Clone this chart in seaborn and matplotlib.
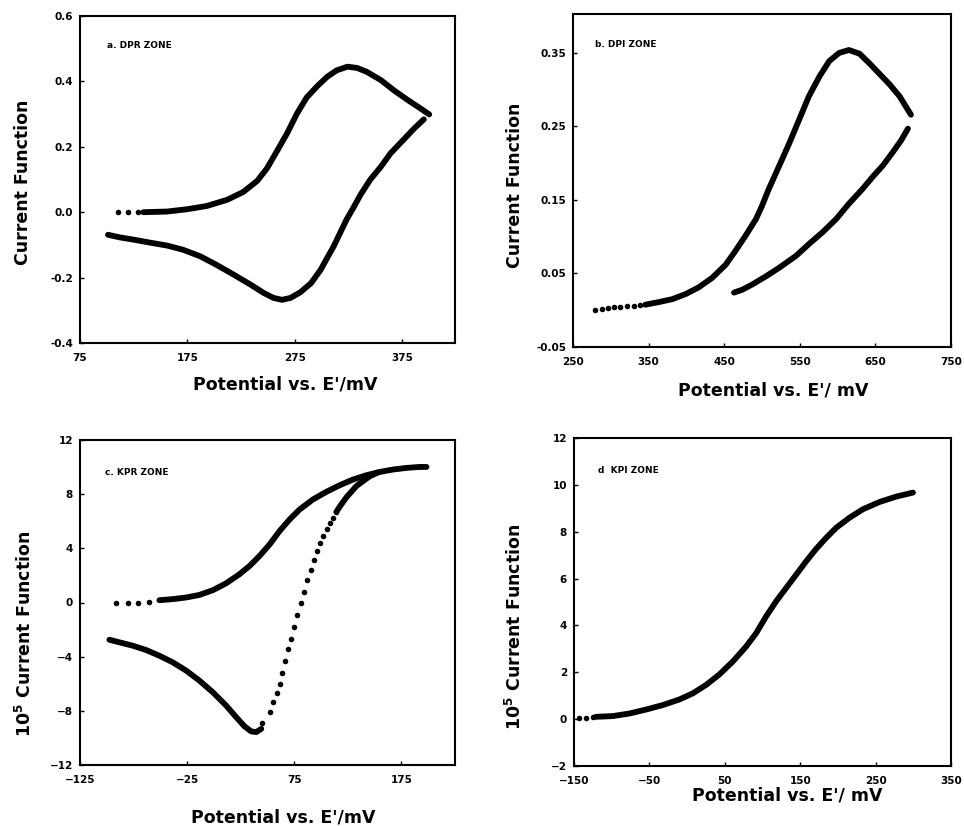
import matplotlib
matplotlib.use("Agg")
import matplotlib.pyplot as plt
import seaborn as sns

# ---------------- Panel a : DPR zone ----------------
a_fwd_dots_x = [110.7, 120.0, 129.3]
a_fwd_dots_y = [0.0, 0.0, 0.0]
a_fwd_x = [134, 156, 174.5, 193, 212, 227, 240, 249, 258, 268, 277, 286, 296, 305,
           314, 324, 333, 342, 355, 367, 380, 392, 400]
a_fwd_y = [0.000, 0.002, 0.009, 0.019, 0.038, 0.062, 0.096, 0.134, 0.185, 0.243, 0.302,
           0.351, 0.386, 0.414, 0.434, 0.445, 0.441, 0.429, 0.404, 0.373, 0.343, 0.317, 0.299]
a_rev_x = [395, 386, 373, 364, 355, 345, 336, 330, 323, 317, 311, 305, 299, 290, 280,
           271, 263, 255, 246, 234, 218, 202, 187, 171, 156, 140, 125, 112, 101]
a_rev_y = [0.284, 0.256, 0.211, 0.180, 0.139, 0.099, 0.053, 0.017, -0.023, -0.064, -0.105,
           -0.140, -0.176, -0.217, -0.245, -0.262, -0.268, -0.262, -0.247, -0.222, -0.191,
           -0.161, -0.135, -0.115, -0.102, -0.093, -0.084, -0.077, -0.069]
a_xticks = [75, 175, 275, 375]
a_yticks = [-0.4, -0.2, 0.0, 0.2, 0.4, 0.6]
a_yticklabels = ["-0.4", "-0.2", "0.0", "0.2", "0.4", "0.6"]

# ---------------- Panel b : DPI zone ----------------
b_fwd_dots_x = [279.5, 288.2, 296.1, 303.7, 312.5, 321.3, 330.1, 339.0]
b_fwd_dots_y = [0.0003, 0.0017, 0.0031, 0.0038, 0.0045, 0.0052, 0.0058, 0.0065]
b_fwd_x = [345.6, 363, 381, 399, 416, 434, 452, 465, 478, 492, 500, 509, 523, 536, 549,
           562, 576, 589, 602, 615, 629, 642, 655, 669, 682, 697]
b_fwd_y = [0.0075, 0.011, 0.015, 0.022, 0.031, 0.044, 0.062, 0.081, 0.101, 0.124, 0.142,
           0.165, 0.197, 0.227, 0.259, 0.291, 0.318, 0.339, 0.350, 0.354, 0.349, 0.336,
           0.322, 0.307, 0.291, 0.266]
b_rev_x = [693, 684, 673, 660, 646, 633, 615, 598, 580, 562, 545, 523, 505, 487, 474, 463]
b_rev_y = [0.247, 0.231, 0.215, 0.197, 0.181, 0.165, 0.145, 0.124, 0.106, 0.090, 0.074,
           0.058, 0.046, 0.035, 0.028, 0.024]
b_xticks = [250, 350, 450, 550, 650, 750]
b_yticks = [-0.05, 0.05, 0.15, 0.25, 0.35]
b_yticklabels = ["-0.05", "0.05", "0.15", "0.25", "0.35"]

# ---------------- Panel c : KPR zone ----------------
c_fwd_dots_x = [-91.4, -80.5, -71.1, -60.2]
c_fwd_dots_y = [0.0, 0.0, 0.0, 0.07]
c_fwd_x = [-50.9, -38.4, -25.9, -13.5, -1.0, 11.4, 23.9, 33.3, 42.6, 52.0, 61.3, 70.6,
           80.0, 92.4, 104.9, 117.4, 129.8, 142.3, 154.7, 167.2, 179.7, 192.1, 198.4]
c_fwd_y = [0.17, 0.25, 0.37, 0.56, 0.91, 1.42, 2.09, 2.70, 3.44, 4.29, 5.28, 6.13, 6.87,
           7.61, 8.17, 8.66, 9.08, 9.40, 9.64, 9.82, 9.94, 10.01, 10.01]
c_rev_x = [-97.6, -88.2, -75.8, -63.3, -50.9, -38.4, -25.9, -13.5, -1.0, 11.4, 20.8,
           28.6, 34.8, 39.5, 44.2]
c_rev_y = [-2.75, -2.94, -3.19, -3.51, -3.93, -4.42, -5.03, -5.77, -6.63, -7.61, -8.47,
           -9.15, -9.52, -9.57, -9.33]
c_rev_dots_x = [45.1, 51.9, 55.0, 59.1, 61.3, 63.8, 65.9, 69.0, 72.2, 74.3, 77.8, 80.9,
                83.7, 87.1, 90.2, 93.0, 96.1, 98.6, 101.7, 105.5, 108.6, 111.1, 114.3]
c_rev_dots_y = [-8.91, -8.10, -7.36, -6.70, -6.02, -5.21, -4.34, -3.46, -2.70, -1.84,
                -0.94, 0.0, 0.81, 1.64, 2.38, 3.11, 3.81, 4.42, 4.91, 5.40, 5.89, 6.26, 6.70]
c_rev_end_x = [114.3, 118, 124, 133, 145, 153]
c_rev_end_y = [6.70, 7.15, 7.80, 8.60, 9.30, 9.60]
c_xticks = [-125, -25, 75, 175]
c_yticks = [-12, -8, -4, 0, 4, 8, 12]

# ---------------- Panel d : KPI zone ----------------
d_dots_x = [-143, -134, -125]
d_dots_y = [0.03, 0.06, 0.10]
d_x = [-120.8, -98.7, -76.5, -54.4, -32.3, -10.2, 7.5, 25.2, 42.9, 60.6, 78.3, 91.6,
       104.9, 118.1, 131.4, 144.7, 158.0, 171.2, 184.5, 197.8, 215.5, 233.2, 255.3,
       277.4, 299.6]
d_y = [0.10, 0.13, 0.24, 0.41, 0.60, 0.84, 1.10, 1.46, 1.91, 2.46, 3.10, 3.67, 4.39,
       5.03, 5.60, 6.17, 6.74, 7.27, 7.74, 8.17, 8.60, 8.96, 9.27, 9.50, 9.67]
d_xticks = [-150, -50, 50, 150, 250, 350]
d_yticks = [-2, 0, 2, 4, 6, 8, 10, 12]

panel_labels = ["a. DPR ZONE", "b. DPI ZONE", "c. KPR ZONE", "d  KPI ZONE"]
xlabels = ["Potential vs. E'/mV", "Potential vs. E'/ mV",
           "Potential vs. E'/mV", "Potential vs. E'/ mV"]
ylabels = ["Current Function", "Current Function",
           r"$\mathbf{10^{5}}$ Current Function", r"$\mathbf{10^{5}}$ Current Function"]

sns.set_theme(style="white")
plt.rcParams["font.family"] = ["DejaVu Sans"]
plt.rcParams["font.weight"] = "bold"
plt.rcParams["text.color"] = "black"
plt.rcParams["axes.labelcolor"] = "black"
plt.rcParams["xtick.color"] = "black"
plt.rcParams["ytick.color"] = "black"

W, H = 964, 826
fig = plt.figure(figsize=(W / 100, H / 100), dpi=100)


def box(l, r, t, b):
    return [l / W, (H - b) / H, (r - l) / W, (b - t) / H]


ax_a = fig.add_axes(box(80, 455, 16, 343))
ax_b = fig.add_axes(box(573, 951, 14, 347))
ax_c = fig.add_axes(box(80, 455, 440, 765))
ax_d = fig.add_axes(box(574, 951, 438, 766))

LW = 4.2
DOT = 16
kw_line = dict(color="black", linewidth=LW, sort=False, estimator=None,
               solid_capstyle="round", legend=False)
kw_dot = dict(color="black", s=DOT, linewidth=0, legend=False)

# a
sns.scatterplot(x=a_fwd_dots_x, y=a_fwd_dots_y, ax=ax_a, **kw_dot)
sns.lineplot(x=a_fwd_x, y=a_fwd_y, ax=ax_a, **kw_line)
sns.lineplot(x=a_rev_x, y=a_rev_y, ax=ax_a, **kw_line)
ax_a.set_xlim(75, 424)
ax_a.set_ylim(-0.4, 0.6)
ax_a.set_xticks(a_xticks)
ax_a.set_yticks(a_yticks)
ax_a.set_yticklabels(a_yticklabels)

# b
sns.scatterplot(x=b_fwd_dots_x, y=b_fwd_dots_y, ax=ax_b, **kw_dot)
sns.lineplot(x=b_fwd_x, y=b_fwd_y, ax=ax_b, **kw_line)
sns.lineplot(x=b_rev_x, y=b_rev_y, ax=ax_b, **kw_line)
ax_b.set_xlim(250, 750)
ax_b.set_ylim(-0.05, 0.403)
ax_b.set_xticks(b_xticks)
ax_b.set_yticks(b_yticks)
ax_b.set_yticklabels(b_yticklabels)

# c
sns.scatterplot(x=c_fwd_dots_x, y=c_fwd_dots_y, ax=ax_c, **kw_dot)
sns.lineplot(x=c_fwd_x, y=c_fwd_y, ax=ax_c, **kw_line)
sns.lineplot(x=c_rev_x, y=c_rev_y, ax=ax_c, **kw_line)
sns.scatterplot(x=c_rev_dots_x, y=c_rev_dots_y, ax=ax_c, **kw_dot)
sns.lineplot(x=c_rev_end_x, y=c_rev_end_y, ax=ax_c, **kw_line)
ax_c.set_xlim(-125, 225)
ax_c.set_ylim(-12, 12)
ax_c.set_xticks(c_xticks)
ax_c.set_yticks(c_yticks)

# d
sns.scatterplot(x=d_dots_x, y=d_dots_y, ax=ax_d, **kw_dot)
sns.lineplot(x=d_x, y=d_y, ax=ax_d, **kw_line)
ax_d.set_xlim(-150, 350)
ax_d.set_ylim(-2, 12)
ax_d.set_xticks(d_xticks)
ax_d.set_yticks(d_yticks)

axes = [ax_a, ax_b, ax_c, ax_d]
text_pos = [(0.072, 0.911), (0.058, 0.907), (0.067, 0.90), (0.064, 0.902)]
xlab_pos = [(0.547, -0.128), (0.529, -0.13), (0.541, -0.16), (0.565, -0.091)]
ylab_pos = [(-0.152, 0.492), (-0.153, 0.486), (-0.147, 0.403), (-0.156, 0.424)]

for ax, lab, xl, yl, tp, xp, yp in zip(axes, panel_labels, xlabels, ylabels,
                                       text_pos, xlab_pos, ylab_pos):
    for s in ax.spines.values():
        s.set_visible(True)
        s.set_color("black")
        s.set_linewidth(1.5)
    ax.tick_params(axis="both", which="major", direction="in", length=3, width=1,
                   colors="black", labelsize=7.5, bottom=True, left=True)
    ax.tick_params(axis="x", pad=7)
    ax.tick_params(axis="y", pad=5)
    for t in ax.get_xticklabels() + ax.get_yticklabels():
        t.set_fontweight("bold")
        t.set_color("black")
    ax.grid(False)
    ax.set_facecolor("white")
    ax.text(tp[0], tp[1], lab, transform=ax.transAxes, fontsize=6.5, color="black",
            fontweight="bold", va="center", ha="left")
    ax.set_xlabel(xl, fontsize=12.5, fontweight="bold", va="center", color="black")
    ax.set_ylabel(yl, fontsize=12.5, fontweight="bold", va="center", color="black")
    ax.xaxis.set_label_coords(*xp)
    ax.yaxis.set_label_coords(*yp)

fig.savefig("out.png", dpi=100, facecolor="white")
